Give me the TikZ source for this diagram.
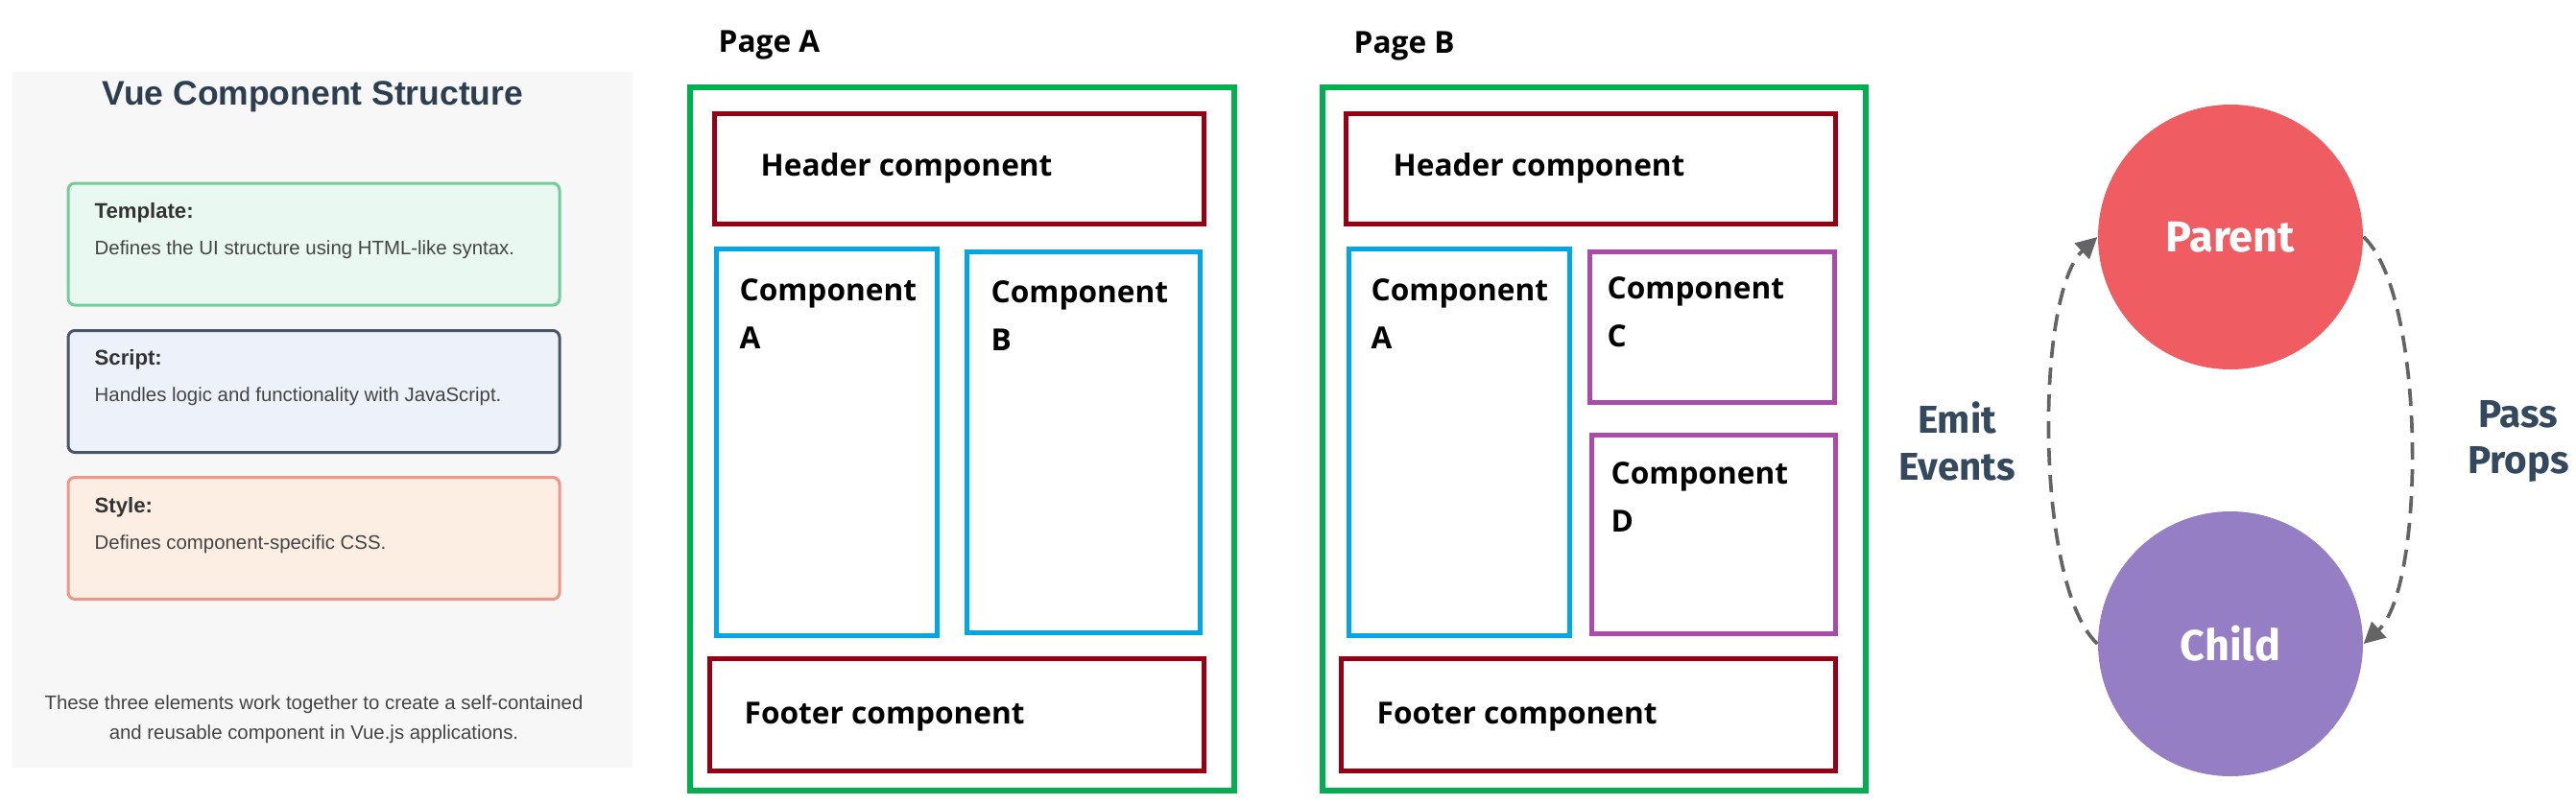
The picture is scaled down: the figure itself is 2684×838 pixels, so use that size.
\documentclass[tikz,border=0pt]{standalone}
\usepackage{fontspec}
\setmainfont{Liberation Sans}
\newfontfamily\pagefont{Open Sans}
\newfontfamily\firafont{Fira Sans}
\usetikzlibrary{arrows.meta,calc}
\definecolor{panelbg}{RGB}{247,247,247}
\definecolor{titleC}{RGB}{44,62,80}
\definecolor{tplB}{RGB}{114,205,154}
\definecolor{tplF}{RGB}{233,248,240}
\definecolor{scrB}{RGB}{74,85,104}
\definecolor{scrF}{RGB}{237,241,249}
\definecolor{styB}{RGB}{240,150,135}
\definecolor{styF}{RGB}{253,238,228}
\definecolor{headC}{RGB}{51,51,51}
\definecolor{descC}{RGB}{68,68,68}
\definecolor{pgGreen}{RGB}{0,176,80}
\definecolor{pgRed}{RGB}{150,0,20}
\definecolor{pgBlue}{RGB}{0,166,230}
\definecolor{pgPurple}{RGB}{170,75,170}
\definecolor{parentC}{RGB}{239,93,99}
\definecolor{childC}{RGB}{149,126,196}
\definecolor{lblC}{RGB}{52,73,94}
\definecolor{arrC}{RGB}{100,100,100}
\begin{document}
\begin{tikzpicture}[x=0.1mm,y=-0.1mm,
  panel/.style={draw=none,fill=panelbg,minimum width=64.6mm,minimum height=72.5mm,inner sep=0},
  titletxt/.style={font=\bfseries\fontsize{10.1}{12}\selectfont,text=titleC,inner sep=0},
  lbox/.style={rounded corners=0.7mm,line width=0.3mm,minimum width=51.2mm,minimum height=12.7mm,inner sep=0},
  lhead/.style={font=\bfseries\fontsize{6.3}{8}\selectfont,text=headC,inner sep=0,anchor=west},
  ldesc/.style={font=\fontsize{5.8}{8.8}\selectfont,text=descC,inner sep=0},
  pagebox/.style={draw=pgGreen,line width=0.6mm,inner sep=0},
  redbox/.style={draw=pgRed,line width=0.5mm,inner sep=0},
  bluebox/.style={draw=pgBlue,line width=0.5mm,inner sep=0},
  purplebox/.style={draw=pgPurple,line width=0.5mm,inner sep=0},
  ptext/.style={font=\pagefont\bfseries\fontsize{9}{14.2}\selectfont,inner sep=0,align=left,anchor=west},
  bubble/.style={circle,minimum size=27.6mm,inner sep=0,text=white,font=\firafont\bfseries\fontsize{12.8}{15}\selectfont},
  lbl/.style={font=\firafont\bfseries\fontsize{11.5}{13.9}\selectfont,text=lblC,align=center,inner sep=0},
  flow/.style={draw=arrC,line width=0.37mm,dash pattern=on 1.8mm off 1mm,-{Triangle[length=2.2mm,width=2.2mm]}}
]
\useasboundingbox (0,0) rectangle (2684,838);

% ---- left panel ----
\node[panel] (bg) at (336,437.5) {};
\node[titletxt] (title) at (326,101) {Vue Component Structure};
\node[lbox,draw=tplB,fill=tplF] (tpl) at (327,254.5) {};
\node[lhead] (tplh) at (98,222) {Template:};
\node[ldesc,anchor=west] (tpld) at (98,260) {Defines the UI structure using HTML-like syntax.};
\node[lbox,draw=scrB,fill=scrF] (scr) at (327,408) {};
\node[lhead] (scrh) at (98,375) {Script:};
\node[ldesc,anchor=west] (scrd) at (98,413) {Handles logic and functionality with JavaScript.};
\node[lbox,draw=styB,fill=styF] (sty) at (327,561) {};
\node[lhead] (styh) at (98,529) {Style:};
\node[ldesc,anchor=west] (styd) at (98,567) {Defines component-specific CSS.};
\node[ldesc,align=center] (note) at (327,749.5) {These three elements work together to create a self-contained\\and reusable component in Vue.js applications.};

% ---- Page A ----
\node[ptext] (pAlabel) at (748,47) {Page A};
\node[pagebox,minimum width=56.7mm,minimum height=73.3mm] (pA) at (1002.5,457.5) {};
\node[redbox,minimum width=51mm,minimum height=11.5mm] (pAh) at (999,175.5) {};
\node[ptext] (pAht) at (792,175) {Header component};
\node[bluebox,minimum width=23mm,minimum height=40.3mm] (pAa) at (861,460.5) {};
\node[ptext] (pAat) at (770,327) {Component\\A};
\node[bluebox,minimum width=24.3mm,minimum height=39.7mm] (pAb) at (1128.5,460.5) {};
\node[ptext] (pAbt) at (1032,329) {Component\\B};
\node[redbox,minimum width=51.5mm,minimum height=11.7mm] (pAf) at (996.5,744.5) {};
\node[ptext] (pAft) at (775,747) {Footer component};

% ---- Page B ----
\node[ptext] (pBlabel) at (1410,48) {Page B};
\node[pagebox,minimum width=56.6mm,minimum height=73.3mm] (pB) at (1661,457.5) {};
\node[redbox,minimum width=51mm,minimum height=11.5mm] (pBh) at (1657,175.5) {};
\node[ptext] (pBht) at (1451,175) {Header component};
\node[bluebox,minimum width=23mm,minimum height=40.3mm] (pBa) at (1520,460.5) {};
\node[ptext] (pBat) at (1428,327) {Component\\A};
\node[purplebox,minimum width=25.5mm,minimum height=15.7mm] (pBc) at (1783.5,340.5) {};
\node[ptext] (pBct) at (1674,325.5) {Component\\C};
\node[purplebox,minimum width=25.4mm,minimum height=20.7mm] (pBd) at (1785,556.5) {};
\node[ptext] (pBdt) at (1678,518) {Component\\D};
\node[redbox,minimum width=51.5mm,minimum height=11.7mm] (pBf) at (1654.5,744.5) {};
\node[ptext] (pBft) at (1434,747) {Footer component};

% ---- Parent / Child ----
\node[bubble,fill=parentC] (parent) at (2324,247) {Parent};
\node[bubble,fill=childC] (child) at (2324,671) {Child};
\draw[flow] (child.west) .. controls +(-65,-60) and +(-65,60) .. (parent.west);
\draw[flow] (parent.east) .. controls +(65,60) and +(65,-60) .. (child.east);
\node[lbl] (emit) at (2039,460) {Emit\\Events};
\node[lbl] (pass) at (2624,460) {Pass\\Props};
\end{tikzpicture}
\end{document}
